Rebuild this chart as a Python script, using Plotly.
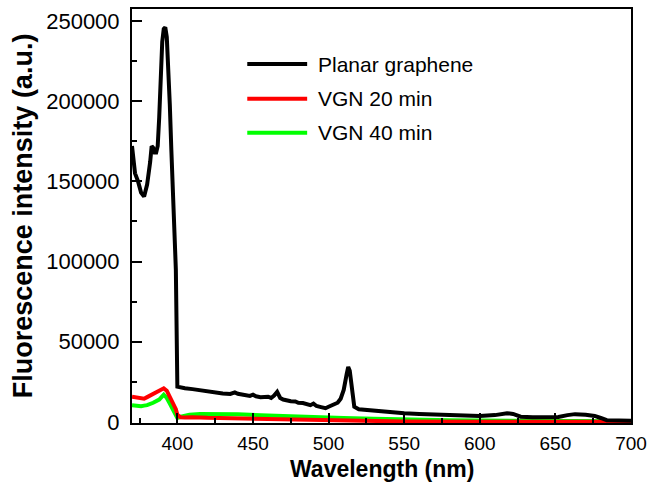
import plotly.graph_objects as go

# Planar graphene (black)
wl_planar = [370, 371, 372, 374, 376, 378, 380, 382, 383, 384, 385, 386, 387, 388, 389, 390,
             391, 392, 393, 394, 395, 396, 397, 398, 399, 400, 402, 405, 410, 415, 420, 425,
             430, 435, 438, 440, 445, 448, 450, 452, 455, 460, 462, 464, 466, 468, 470, 472,
             475, 478, 480, 483, 486, 488, 490, 492, 495, 498, 500, 503, 506, 508, 510, 512,
             513, 514, 515, 516, 517, 520, 530, 540, 550, 560, 575, 590, 600, 610, 615, 618,
             622, 627, 635, 645, 652, 658, 663, 670, 676, 680, 684, 692, 700]
int_planar = [172000, 163000, 155000, 150000, 143000, 140500, 148000, 162000, 172000, 171000,
              168000, 168000, 172000, 190000, 215000, 237000, 245000, 246000, 240000, 222000,
              198000, 170000, 140000, 118000, 95000, 22000, 21500, 21000, 20500, 19800, 19000,
              18200, 17800, 17500, 18500, 17600, 16500, 16300, 17000, 16000, 15500, 15800,
              15000, 16500, 18800, 15000, 14000, 13500, 13000, 12800, 12000, 11800, 11000,
              10500, 11500, 10000, 9300, 8600, 9500, 10500, 12000, 14500, 20000, 30000, 34300,
              32000, 24000, 14000, 9500, 8000, 7000, 6300, 5500, 5000, 4400, 4000, 3800, 4300,
              5000, 5500, 5000, 3300, 3000, 2900, 3100, 4300, 4900, 4500, 3800, 2500, 1100,
              900, 800]

# VGN 20 min (red)
wl_vgn20 = [370, 372, 375, 378, 380, 384, 388, 391, 393, 395, 397, 399, 400, 402, 405, 410,
            420, 430, 440, 450, 470, 490, 510, 530, 550, 600, 650, 700]
int_vgn20 = [15800, 15500, 15000, 14500, 15500, 17500, 19500, 21000, 19500, 16000, 12000,
             8000, 4500, 3000, 2800, 3000, 2600, 2400, 2200, 2000, 1500, 1000, 800, 500, 300,
             200, 150, 100]

# VGN 40 min (green)
wl_vgn40 = [370, 373, 376, 378, 380, 384, 388, 391, 393, 395, 397, 399, 400, 403, 408, 415,
            425, 440, 455, 470, 490, 510, 530, 550, 580, 600, 650, 700]
int_vgn40 = [10500, 10000, 9800, 10200, 10500, 12000, 14000, 17000, 15000, 11500, 8000, 4500,
             2500, 3500, 4500, 5000, 5000, 4800, 4200, 3600, 3000, 2500, 2000, 1500, 1100, 900,
             700, 500]

series_names = ["Planar graphene", "VGN 20 min", "VGN 40 min"]
series_colors = ["#000000", "#ff0000", "#00ff00"]
x_ticks = [400, 450, 500, 550, 600, 650, 700]
y_ticks = [0, 50000, 100000, 150000, 200000, 250000]
x_title = "Wavelength (nm)"
y_title = "Fluorescence intensity (a.u.)"

FONT = "Liberation Sans, Arial, sans-serif"

fig = go.Figure()
data = [(wl_planar, int_planar), (wl_vgn20, int_vgn20), (wl_vgn40, int_vgn40)]
order = [2, 1, 0]
for i in order:
    x, y = data[i]
    fig.add_trace(go.Scatter(x=x, y=y, mode="lines", name=series_names[i],
                             line=dict(color=series_colors[i], width=4),
                             showlegend=False))

# manual legend (longer line samples like the reference)
x0, x1 = 0.231, 0.351
ys = [0.867, 0.783, 0.701]
for name, col, yy in zip(series_names, series_colors, ys):
    fig.add_shape(type="line", xref="paper", yref="paper", x0=x0, x1=x1, y0=yy, y1=yy,
                  line=dict(color=col, width=4))
    fig.add_annotation(xref="paper", yref="paper", x=0.369, y=yy, text=name,
                       showarrow=False, xanchor="left", yanchor="middle",
                       font=dict(family=FONT, size=21, color="black"))

# axis titles as annotations for exact placement
fig.add_annotation(xref="paper", yref="paper", x=0.502, y=-0.111, text="<b>" + x_title + "</b>",
                   showarrow=False, xanchor="center", yanchor="middle",
                   font=dict(family=FONT, size=23, color="black"))
fig.add_annotation(xref="paper", yref="paper", x=-0.218, y=0.5, text="<b>" + y_title + "</b>",
                   showarrow=False, xanchor="center", yanchor="middle", textangle=-90,
                   font=dict(family=FONT, size=27, color="black"))

axis_common = dict(showline=True, linecolor="black", linewidth=2, mirror=True,
                   ticks="inside", ticklen=10, tickwidth=1.5, tickcolor="black",
                   showgrid=False, zeroline=False)

fig.update_xaxes(range=[370, 700], tickvals=x_ticks, tickformat="d",
                 tickfont=dict(family=FONT, size=19, color="black"),
                 ticklabelstandoff=2,
                 minor=dict(dtick=25, tick0=375, ticks="inside", ticklen=5, tickwidth=1.5,
                            tickcolor="black"),
                 **axis_common)
fig.update_yaxes(range=[-620, 257440], tickvals=y_ticks, tickformat="d",
                 tickfont=dict(family=FONT, size=22, color="black"),
                 ticklabelstandoff=6,
                 minor=dict(dtick=25000, tick0=0, ticks="inside", ticklen=5, tickwidth=1.5,
                            tickcolor="black"),
                 **axis_common)

fig.update_layout(width=654, height=492, margin=dict(l=132, r=20, t=7, b=69),
                  plot_bgcolor="white", paper_bgcolor="white",
                  font=dict(family=FONT, color="black"))

fig.write_html("out.html")
